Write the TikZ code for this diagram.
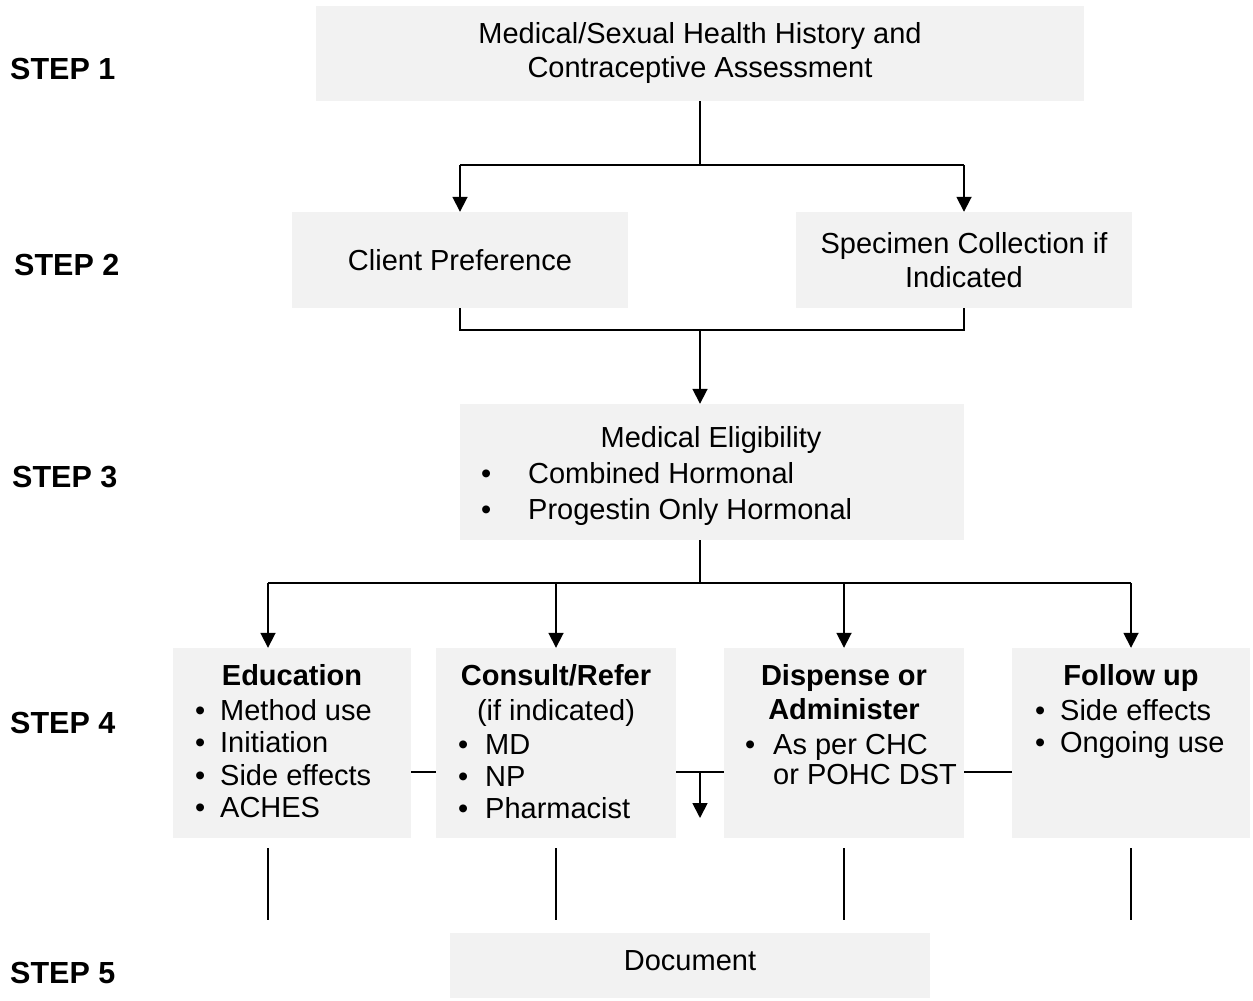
\documentclass[tikz,border=0pt]{standalone}
\usepackage{fontspec}
\setmainfont{Liberation Sans}
\usetikzlibrary{arrows.meta}
\definecolor{boxfill}{RGB}{242,242,242}
\newcommand{\fsz}{\fontsize{29}{34}\selectfont}
\newcommand{\fstep}{\fontsize{30.5}{35}\selectfont}
\newcommand{\bul}[2]{\makebox[#1][l]{•}#2}
\begin{document}
\begin{tikzpicture}[x=1pt,y=-1pt,
  box/.style={fill=boxfill, draw=none, inner sep=0pt, font=\fsz, align=center},
  txt/.style={font=\fsz, inner sep=0pt},
  btxt/.style={font=\fsz\bfseries, inner sep=0pt},
  steplbl/.style={font=\fstep\bfseries, inner sep=0pt, anchor=base west},
  conn/.style={line width=1.8pt, draw=black},
  arr/.style={conn, -{Triangle[width=15pt,length=15pt]}},
]
\useasboundingbox (0,0) rectangle (1253,1001);
\fill[white] (0,0) rectangle (1253,1001);

% step labels
\node[steplbl] (s1) at (10,79) {STEP 1};
\node[steplbl] (s2) at (14,275) {STEP 2};
\node[steplbl] (s3) at (12,487) {STEP 3};
\node[steplbl] (s4) at (10,733) {STEP 4};
\node[steplbl] (s5) at (10,983) {STEP 5};

% boxes
\node[box, minimum width=768pt, minimum height=95pt] (b1) at (700,53.5)
  {Medical/Sexual Health History and\\Contraceptive Assessment};
\node[box, minimum width=336pt, minimum height=96pt] (b2a) at (460,260) {Client Preference};
\node[box, minimum width=336pt, minimum height=96pt] (b2b) at (964,260)
  {Specimen Collection if\\Indicated};
\node[box, minimum width=504pt, minimum height=136pt] (b3) at (712,472) {};
\node[box, minimum width=238pt, minimum height=190pt] (e) at (292,743) {};
\node[box, minimum width=240pt, minimum height=190pt] (c) at (556,743) {};
\node[box, minimum width=240pt, minimum height=190pt] (d) at (844,743) {};
\node[box, minimum width=238pt, minimum height=190pt] (f) at (1131,743) {};
\node[box, minimum width=480pt, minimum height=65pt] (doc) at (690,965.5) {};

% step 3 text
\node[txt, anchor=base] (m0) at (711,447) {Medical Eligibility};
\node[txt, anchor=base west] (m1) at (481,483) {\bul{47pt}{Combined Hormonal}};
\node[txt, anchor=base west] (m2) at (481,519) {\bul{47pt}{Progestin Only Hormonal}};

% education
\node[btxt, anchor=base] (e0) at (292,685) {Education};
\node[txt, anchor=base west] (e1) at (195,720) {\bul{25pt}{Method use}};
\node[txt, anchor=base west] (e2) at (195,752) {\bul{25pt}{Initiation}};
\node[txt, anchor=base west] (e3) at (195,785) {\bul{25pt}{Side effects}};
\node[txt, anchor=base west] (e4) at (195,817) {\bul{25pt}{ACHES}};

% consult
\node[btxt, anchor=base] (c0) at (556,685) {Consult/Refer};
\node[txt, anchor=base] (c00) at (556,720) {(if indicated)};
\node[txt, anchor=base west] (c1) at (458,754) {\bul{27pt}{MD}};
\node[txt, anchor=base west] (c2) at (458,786) {\bul{27pt}{NP}};
\node[txt, anchor=base west] (c3) at (458,818) {\bul{27pt}{Pharmacist}};

% dispense
\node[btxt, anchor=base] (d0) at (844,685) {Dispense or};
\node[btxt, anchor=base] (d00) at (844,719) {Administer};
\node[txt, anchor=base west] (d1) at (745,754) {\bul{28pt}{As per CHC}};
\node[txt, anchor=base west] (d2) at (773,784) {or POHC DST};

% follow up
\node[btxt, anchor=base] (f0) at (1131,685) {Follow up};
\node[txt, anchor=base west] (f1) at (1035,720) {\bul{25pt}{Side effects}};
\node[txt, anchor=base west] (f2) at (1035,752) {\bul{25pt}{Ongoing use}};

% document
\node[txt, anchor=base] (doct) at (690,970) {Document};

% connectors step1 -> step2
\coordinate (j1) at (700,165);
\coordinate (j1l) at (460,165);
\coordinate (j1r) at (964,165);
\draw[conn] (b1.south) -- (j1);
\draw[conn] (j1l) -- (j1r);
\draw[arr] (j1l) -- (b2a.north);
\draw[arr] (j1r) -- (b2b.north);

% step2 -> step3
\coordinate (j2) at (700,330);
\draw[conn] (b2a.south) -- (b2a.south |- j2) -- (b2b.south |- j2) -- (b2b.south);
\draw[arr] (j2) -- (j2 |- b3.north);

% step3 -> step4
\coordinate (j3) at (700,583);
\coordinate (j3l) at (268,583);
\coordinate (j3r) at (1131,583);
\draw[conn] (j3 |- b3.south) -- (j3);
\draw[conn] (j3l) -- (j3r);
\draw[arr] (j3l) -- (j3l |- e.north);
\draw[arr] (c.north |- j3) -- (c.north);
\draw[arr] (d.north |- j3) -- (d.north);
\draw[arr] (j3r) -- (f.north);

% step 4 side connectors
\coordinate (h) at (0,772);
\coordinate (dn0) at (700,772);
\coordinate (dn) at (700,818);
\draw[conn] (e.east |- h) -- (c.west |- h);
\draw[conn] (c.east |- h) -- (d.west |- h);
\draw[arr] (dn0) -- (dn);
\draw[conn] (d.east |- h) -- (f.west |- h);

% step 4 -> step 5 lines
\coordinate (v1a) at (268,848); \coordinate (v1b) at (268,920);
\coordinate (v2a) at (556,848); \coordinate (v2b) at (556,920);
\coordinate (v3a) at (844,848); \coordinate (v3b) at (844,920);
\coordinate (v4a) at (1131,848); \coordinate (v4b) at (1131,920);
\draw[conn] (v1a) -- (v1b);
\draw[conn] (v2a) -- (v2b);
\draw[conn] (v3a) -- (v3b);
\draw[conn] (v4a) -- (v4b);
\end{tikzpicture}
\end{document}
